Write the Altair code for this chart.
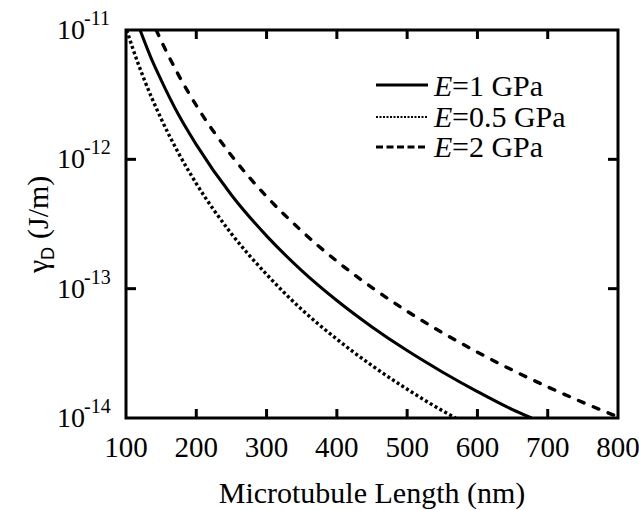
import altair as alt
import pandas as pd

# ---------------- data ----------------
series_names = ["E=1 GPa", "E=0.5 GPa", "E=2 GPa"]
legend_suffix = ["=1 GPa", "=0.5 GPa", "=2 GPa"]

L_e1 = [120, 125, 135, 150, 175, 200, 250, 300, 350, 400, 450, 500, 550, 600, 650, 677]
G_e1 = [1.0e-11, 8.5e-12, 6.2e-12, 4.1e-12, 2.2e-12, 1.3e-12, 5.3e-13, 2.56e-13, 1.38e-13,
        8.1e-14, 5.06e-14, 3.32e-14, 2.27e-14, 1.6e-14, 1.16e-14, 1.0e-14]

L_e05 = [101, 110, 125, 150, 175, 200, 250, 300, 350, 400, 450, 500, 550, 569]
G_e05 = [1.0e-11, 7.1e-12, 4.26e-12, 2.06e-12, 1.11e-12, 6.5e-13, 2.66e-13, 1.29e-13,
         6.9e-14, 4.07e-14, 2.54e-14, 1.67e-14, 1.14e-14, 1.0e-14]

L_e2 = [143, 150, 160, 175, 200, 250, 300, 350, 400, 450, 500, 550, 600, 650, 700, 750, 800]
G_e2 = [1.0e-11, 8.26e-12, 6.4e-12, 4.46e-12, 2.61e-12, 1.07e-12, 5.16e-13, 2.79e-13,
        1.63e-13, 1.02e-13, 6.69e-14, 4.57e-14, 3.23e-14, 2.34e-14, 1.74e-14, 1.32e-14, 1.02e-14]

x_tick_values = [100, 200, 300, 400, 500, 600, 700, 800]
x_inner_ticks = [200, 300, 400, 500, 600, 700]
y_tick_values = [1e-11, 1e-12, 1e-13, 1e-14]
y_tick_exponents = ["-11", "-12", "-13", "-14"]
y_inner_ticks = [1e-12, 1e-13]

x_title = "Microtubule Length (nm)"

# ---------------- layout ----------------
W, H = 492, 388
SERIF = "Liberation Serif"
SANS = "Liberation Sans"
FS = 28      # tick labels
FT = 30      # titles and legend

xs = alt.Scale(domain=[100, 800], nice=False, zero=False)
ys = alt.Scale(type="log", domain=[1e-14, 1e-11], nice=False)


def X(field="L"):
    return alt.X(f"{field}:Q", scale=xs, axis=None)


def Y(field="gamma"):
    return alt.Y(f"{field}:Q", scale=ys, axis=None)


styles = [
    dict(strokeWidth=3),
    dict(strokeWidth=3.4, strokeDash=[3, 2.6]),
    dict(strokeWidth=3.4, strokeDash=[6, 10], strokeCap="round"),
]
series_data = [(L_e1, G_e1), (L_e05, G_e05), (L_e2, G_e2)]

layers = []
for name, (Ls, Gs), st in zip(series_names, series_data, styles):
    df = pd.DataFrame({"L": Ls, "gamma": Gs, "series": name})
    layers.append(
        alt.Chart(df).mark_line(color="black", interpolate="monotone", clip=True, **st)
        .encode(x=X(), y=Y())
    )

# inward ticks (bottom, top, left, right)
xt = pd.DataFrame({"L": x_inner_ticks})
yt = pd.DataFrame({"gamma": y_inner_ticks})
layers.append(alt.Chart(xt).mark_rule(color="black", strokeWidth=3)
              .encode(x=X(), y=alt.value(H), y2=alt.value(H - 9)))
layers.append(alt.Chart(xt).mark_rule(color="black", strokeWidth=3)
              .encode(x=X(), y=alt.value(0), y2=alt.value(9)))
layers.append(alt.Chart(yt).mark_rule(color="black", strokeWidth=3)
              .encode(y=Y(), x=alt.value(0), x2=alt.value(10)))
layers.append(alt.Chart(yt).mark_rule(color="black", strokeWidth=3)
              .encode(y=Y(), x=alt.value(W), x2=alt.value(W - 10)))

# x tick labels
xl = pd.DataFrame({"L": x_tick_values, "lab": [str(v) for v in x_tick_values]})
layers.append(alt.Chart(xl).mark_text(font=SERIF, fontSize=29, align="center",
                                      baseline="alphabetic", color="black")
              .encode(x=X(), y=alt.value(H + 39), text="lab:N"))

# y tick labels: 10 with superscript exponent
yl = pd.DataFrame({"gamma": y_tick_values, "exp": y_tick_exponents, "base": ["10"] * 4})
layers.append(alt.Chart(yl).mark_text(font=SERIF, fontSize=FS, align="right",
                                      baseline="alphabetic", color="black", dy=9)
              .encode(y=Y(), x=alt.value(-41), text="base:N"))
layers.append(alt.Chart(yl).mark_text(font=SERIF, fontSize=20, align="left",
                                      baseline="alphabetic", color="black", dy=-5)
              .encode(y=Y(), x=alt.value(-42), text="exp:N"))

# x axis title
layers.append(alt.Chart(pd.DataFrame({"t": [x_title]}))
              .mark_text(font=SERIF, fontSize=FT, align="center", baseline="alphabetic", color="black")
              .encode(x=alt.value(W / 2), y=alt.value(H + 85), text="t:N"))

# y axis title: gamma_D (J/m), rotated
one = pd.DataFrame({"k": [0]})
layers.append(alt.Chart(one).mark_text(text="γ", font=SERIF, fontSize=FT, angle=270,
                                       align="left", baseline="alphabetic", color="black")
              .encode(x=alt.value(-78), y=alt.value(243)))
layers.append(alt.Chart(one).mark_text(text="D", font=SANS, fontSize=18, angle=270,
                                       align="left", baseline="alphabetic", color="black")
              .encode(x=alt.value(-72), y=alt.value(230)))
layers.append(alt.Chart(one).mark_text(text="(J/m)", font=SERIF, fontSize=FT, angle=270,
                                       align="left", baseline="alphabetic", color="black")
              .encode(x=alt.value(-78), y=alt.value(209)))

# legend (custom so that "E" can be italic)
leg_line_y = [55, 87, 117]
leg_text_y = [66, 97, 127]
leg_styles = [
    dict(strokeWidth=3),
    dict(strokeWidth=2, strokeDash=[2, 1.5]),
    dict(strokeWidth=3, strokeDash=[7, 3.5]),
]
for suf, ly, ty, st in zip(legend_suffix, leg_line_y, leg_text_y, leg_styles):
    d = pd.DataFrame({"s": [suf]})
    layers.append(alt.Chart(d).mark_rule(color="black", **st)
                  .encode(x=alt.value(250), x2=alt.value(302), y=alt.value(ly)))
    layers.append(alt.Chart(d).mark_text(text="E", font=SERIF, fontSize=FT, fontStyle="italic",
                                         align="left", baseline="alphabetic", color="black")
                  .encode(x=alt.value(308), y=alt.value(ty)))
    layers.append(alt.Chart(d).mark_text(font=SERIF, fontSize=FT,
                                         align="left", baseline="alphabetic", color="black")
                  .encode(x=alt.value(326), y=alt.value(ty), text="s:N"))

chart = (
    alt.layer(*layers)
    .properties(width=W, height=H,
                background="white",
                autosize=alt.AutoSizeParams(type="none"),
                padding={"left": 126, "top": 30, "right": 21, "bottom": 92})
    .configure_view(stroke="black", strokeWidth=3)
)

chart.save("out.html", embed_options={"renderer": "svg", "actions": False})
